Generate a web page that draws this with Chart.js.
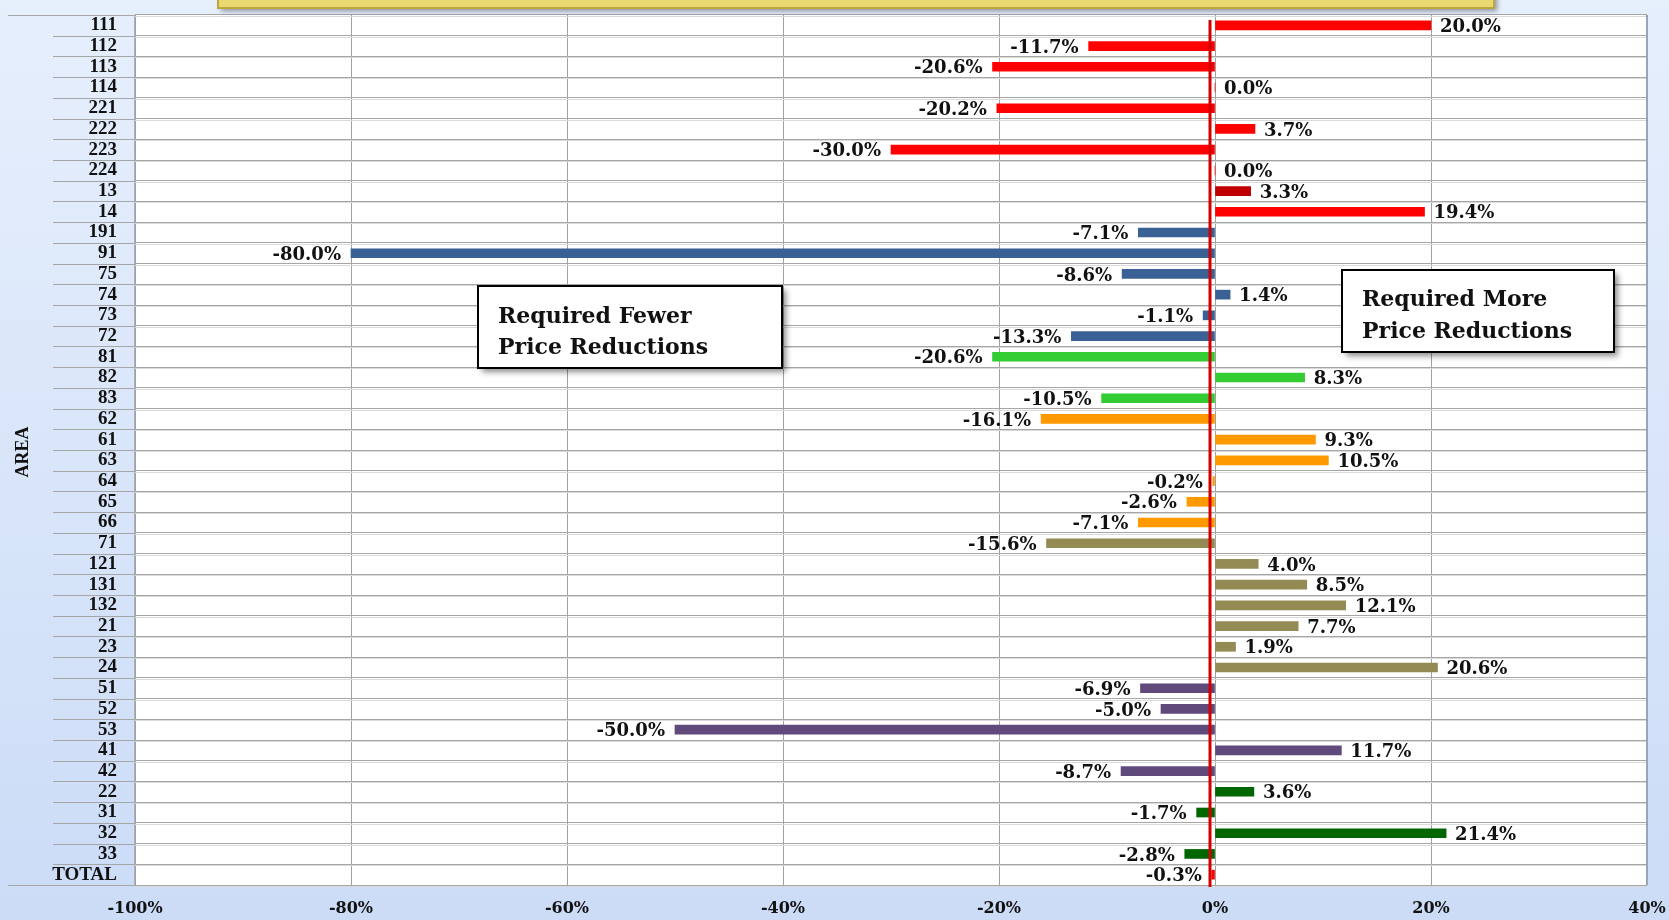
<!DOCTYPE html>
<html><head><meta charset="utf-8">
<script src="https://cdn.jsdelivr.net/npm/chart.js@4.4.0/dist/chart.umd.min.js"></script>
<style>html,body{margin:0;padding:0;overflow:hidden;background:#dbe6f9}#wrap{width:1669px;height:920px;position:relative}</style>
</head><body><div id="wrap"><canvas id="c" width="1669" height="920"></canvas></div>
<script>
const categories = ['111','112','113','114','221','222','223','224','13','14','191','91','75','74','73','72','81','82','83','62','61','63','64','65','66','71','121','131','132','21','23','24','51','52','53','41','42','22','31','32','33','TOTAL'];
const values = [20.0,-11.7,-20.6,0.0,-20.2,3.7,-30.0,0.0,3.3,19.4,-7.1,-80.0,-8.6,1.4,-1.1,-13.3,-20.6,8.3,-10.5,-16.1,9.3,10.5,-0.2,-2.6,-7.1,-15.6,4.0,8.5,12.1,7.7,1.9,20.6,-6.9,-5.0,-50.0,11.7,-8.7,3.6,-1.7,21.4,-2.8,-0.3];
const groups = ['red','red','red','red','red','red','red','red','darkred','red','blue','blue','blue','blue','blue','blue','green','green','green','orange','orange','orange','orange','orange','orange','khaki','khaki','khaki','khaki','khaki','khaki','khaki','purple','purple','purple','purple','purple','darkgreen','darkgreen','darkgreen','darkgreen','red'];
const xMin = -100, xMax = 40, xStep = 20;
const axisTitle = 'AREA';
const boxLeftText = ['Required Fewer','Price Reductions'];
const boxRightText = ['Required More','Price Reductions'];

const palette = {red:'#FF0000',darkred:'#C00000',blue:'#3A6195',green:'#33CC33',orange:'#FF9900',khaki:'#948A54',purple:'#604A7B',darkgreen:'#006600'};
const barColors = groups.map(g => palette[g]);

const bgPlugin = {
  id:'bg',
  beforeDraw(chart){
    const {ctx, chartArea:a} = chart;
    ctx.save();
    const g = ctx.createLinearGradient(0,0,0,920);
    g.addColorStop(0,'#E6EFFC');
    g.addColorStop(1,'#CCDCF7');
    ctx.fillStyle = g;
    ctx.fillRect(0,0,chart.width,chart.height);
    ctx.fillStyle = '#FFFFFF';
    ctx.fillRect(a.left,a.top,a.right-a.left,a.bottom-a.top);
    ctx.restore();
  },
  beforeDatasetsDraw(chart){
    const {ctx, chartArea:a, scales:{y}} = chart;
    const step = y.getPixelForValue(1) - y.getPixelForValue(0);
    ctx.save();
    ctx.lineWidth = 1;
    for(let i=0;i<=categories.length;i++){
      const yy = Math.round(y.getPixelForValue(0) - step/2 + i*step) + 0.5;
      ctx.strokeStyle = '#DADADA';
      ctx.beginPath(); ctx.moveTo(a.left, yy+1); ctx.lineTo(a.right, yy+1); ctx.stroke();
      ctx.strokeStyle = '#A6A6A6';
      const x0 = (i===0 || i===categories.length) ? 8 : 53;
      ctx.beginPath(); ctx.moveTo(x0, yy); ctx.lineTo(a.left, yy); ctx.stroke();
    }
    ctx.strokeStyle = '#98A4BC'; ctx.lineWidth = 2;
    ctx.beginPath(); ctx.moveTo(a.right, a.top); ctx.lineTo(a.right, a.bottom); ctx.stroke();
    ctx.strokeStyle = '#A9B2C4'; ctx.lineWidth = 1;
    ctx.beginPath(); ctx.moveTo(a.left-0.5, a.top); ctx.lineTo(a.left-0.5, a.bottom); ctx.stroke();
    ctx.restore();
  },
  afterDatasetsDraw(chart){
    const {ctx, chartArea:a, scales:{x}} = chart;
    const meta = chart.getDatasetMeta(0);
    ctx.save();
    ctx.font = 'bold 18px "DejaVu Serif"';
    ctx.fillStyle = '#111111';
    ctx.textBaseline = 'middle';
    meta.data.forEach((bar,i)=>{
      const v = values[i];
      const txt = v.toFixed(1) + '%';
      if(v >= 0){ ctx.textAlign='left'; ctx.fillText(txt, Math.max(bar.x,bar.base)+9, bar.y+2); }
      else { ctx.textAlign='right'; ctx.fillText(txt, Math.min(bar.x,bar.base)-10, bar.y+2); }
    });
    const rx = x.getPixelForValue(0) - 5;
    ctx.strokeStyle = '#D40000'; ctx.lineWidth = 3;
    ctx.beginPath(); ctx.moveTo(rx, a.top+5); ctx.lineTo(rx, a.bottom+2); ctx.stroke();
    ctx.translate(23, 452); ctx.rotate(-Math.PI/2);
    ctx.font = 'bold 18px "Liberation Serif"'; ctx.textAlign='center'; ctx.fillStyle='#111';
    ctx.fillText(axisTitle, 0, 0);
    ctx.restore();
  },
  afterDraw(chart){
    const ctx = chart.ctx;
    function box(x,y,w,h,lines,tx,ty,lh){
      ctx.save();
      ctx.shadowColor='rgba(0,0,0,0.45)'; ctx.shadowBlur=6; ctx.shadowOffsetX=4; ctx.shadowOffsetY=4;
      ctx.fillStyle='#FFFFFF'; ctx.fillRect(x,y,w,h);
      ctx.restore();
      ctx.save();
      ctx.strokeStyle='#000'; ctx.lineWidth=2; ctx.strokeRect(x,y,w,h);
      ctx.font='bold 22px "DejaVu Serif"'; ctx.fillStyle='#111'; ctx.textAlign='left'; ctx.textBaseline='alphabetic';
      lines.forEach((l,k)=>ctx.fillText(l, tx, ty + k*lh));
      ctx.restore();
    }
    box(478,286,304,82,boxLeftText,498,323,31);
    box(1342,270,272,82,boxRightText,1362,306,32);
    ctx.save();
    ctx.shadowColor='rgba(0,0,0,0.4)'; ctx.shadowBlur=5; ctx.shadowOffsetX=3; ctx.shadowOffsetY=3;
    ctx.fillStyle='#E9D870'; ctx.fillRect(218,-20,1276,28);
    ctx.restore();
    ctx.save();
    ctx.strokeStyle='#BFA63A'; ctx.lineWidth=2; ctx.strokeRect(218,-20,1276,28);
    ctx.fillStyle='#F4E89A'; ctx.fillRect(221,-20,1270,4);
    ctx.restore();
  }
};

new Chart(document.getElementById('c'), {
  type:'bar',
  data:{ labels:categories, datasets:[{ data:values, backgroundColor:barColors, borderWidth:0, barThickness:9 }] },
  options:{
    indexAxis:'y', responsive:false, animation:false, devicePixelRatio:1,
    layout:{ padding:{ top:15, right:22, left:0, bottom:0 } },
    plugins:{ legend:{display:false}, tooltip:{enabled:false} },
    scales:{
      x:{ type:'linear', min:xMin, max:xMax,
          ticks:{ stepSize:xStep, callback:v=>v+'%', font:{family:'DejaVu Serif', weight:'bold', size:16}, color:'#111', padding:14, maxRotation:0 },
          grid:{ color:'#A0A0A0', drawTicks:false }, border:{display:false},
          afterFit(s){ s.height = 35; s.paddingLeft = 0; s.paddingRight = 0; } },
      y:{ type:'category',
          ticks:{ font:{family:'Liberation Serif', weight:'bold', size:19}, color:'#111', padding:18, autoSkip:false },
          grid:{ color:'#A6A6A6', drawTicks:false, offset:true }, border:{display:false},
          afterFit(s){ s.width = 135; s.paddingTop = 0; s.paddingBottom = 0; } }
    }
  },
  plugins:[bgPlugin]
});
</script></body></html>
